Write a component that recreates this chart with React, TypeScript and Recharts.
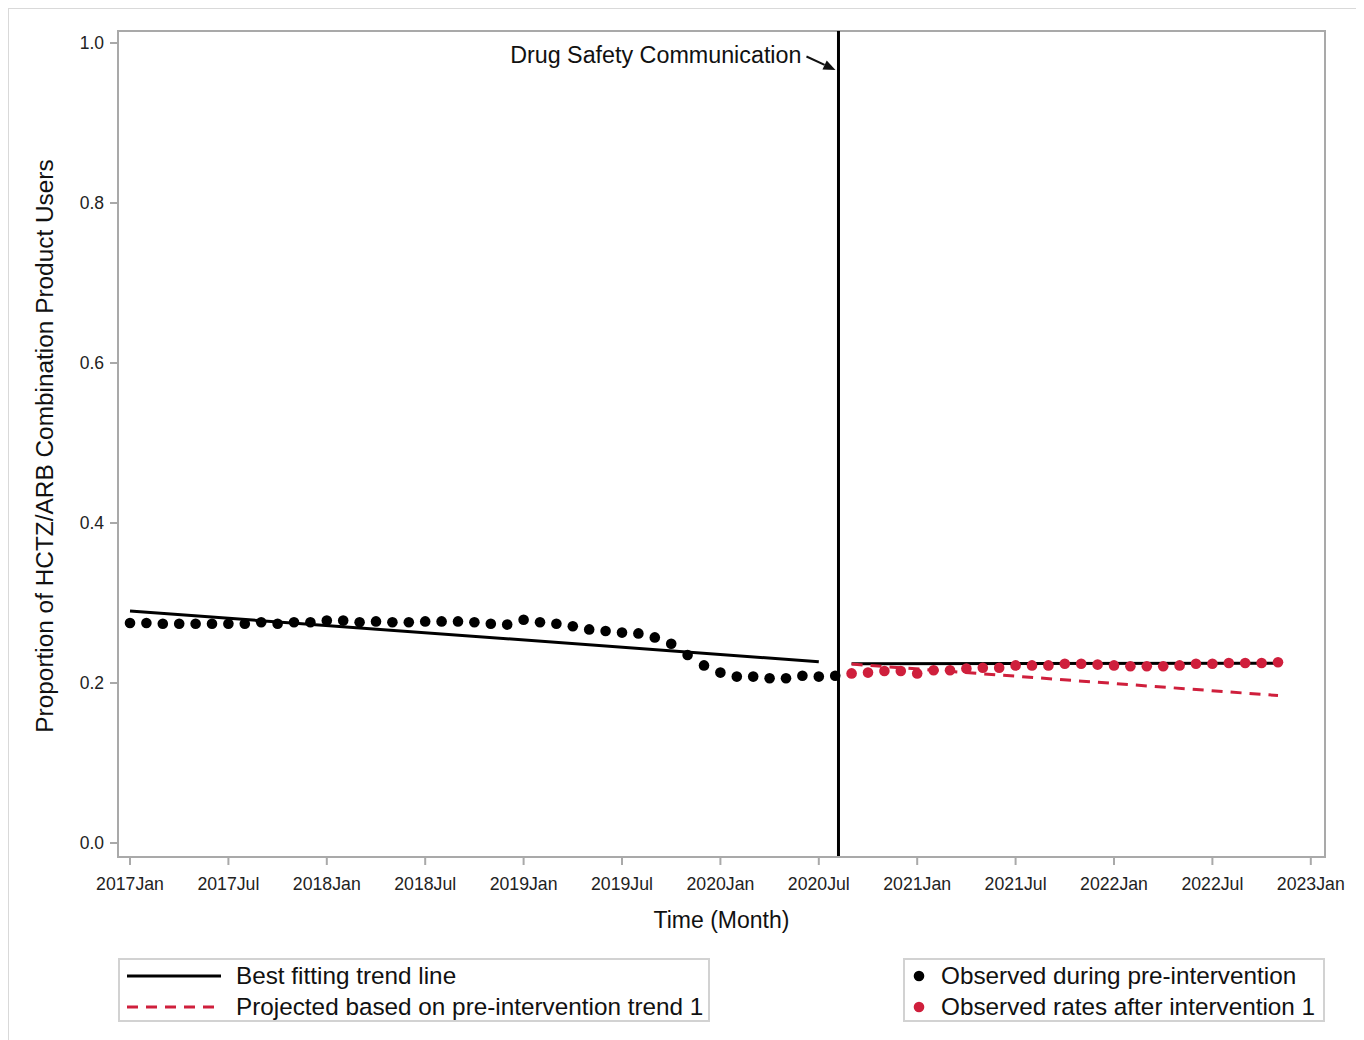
import { ComposedChart, Line, Scatter, XAxis, YAxis, ReferenceLine, ReferenceArea } from "recharts";

// monthly proportions, 2017Jan onward (month index 0)
const preRates = [
  0.275, 0.275, 0.274, 0.274, 0.274, 0.274, 0.274, 0.274, 0.276, 0.274, 0.276, 0.276,
  0.278, 0.278, 0.276, 0.277, 0.276, 0.276, 0.277, 0.277, 0.277, 0.276, 0.274, 0.273,
  0.279, 0.276, 0.274, 0.271, 0.267, 0.265, 0.263, 0.262, 0.257, 0.249, 0.235, 0.222,
  0.213, 0.208, 0.208, 0.206, 0.206, 0.209, 0.208, 0.209,
];
// 2020Sep onward
const postStart = 44;
const postRates = [
  0.212, 0.213, 0.215, 0.215, 0.212, 0.216, 0.216, 0.218, 0.219, 0.219, 0.222, 0.222,
  0.222, 0.224, 0.224, 0.223, 0.222, 0.221, 0.221, 0.221, 0.222, 0.224, 0.224, 0.225,
  0.225, 0.225, 0.226,
];

const trendPre = [{ m: 0, v: 0.290 }, { m: 42, v: 0.2266 }];
const trendPost = [{ m: 44, v: 0.2242 }, { m: 70, v: 0.2248 }];
const projected = [{ m: 44, v: 0.2236 }, { m: 70, v: 0.1843 }];

const interventionMonth = 43.2;

const xTicks = [0, 6, 12, 18, 24, 30, 36, 42, 48, 54, 60, 66, 72];
const xTickLabels = [
  "2017Jan", "2017Jul", "2018Jan", "2018Jul", "2019Jan", "2019Jul", "2020Jan",
  "2020Jul", "2021Jan", "2021Jul", "2022Jan", "2022Jul", "2023Jan",
];
const yTicks = [0, 0.2, 0.4, 0.6, 0.8, 1.0];

const X_DOMAIN: [number, number] = [-0.732, 72.866];
const Y_DOMAIN: [number, number] = [-0.0175, 1.015];

const RED = "#cf1f3c";
const FRAME = "#a9a9a9";
const FONT = "'Liberation Sans', Arial, Helvetica, sans-serif";

const preData = preRates.map((v, i) => ({ m: i, v }));
const postData = postRates.map((v, i) => ({ m: postStart + i, v }));

const Dot = (color: string) => (p: any) => <circle cx={p.cx} cy={p.cy} r={5.3} fill={color} />;

function DscLabel(props: any) {
  const { x, y } = props.viewBox;
  const tip = { x: x - 3, y: y + 39 };
  const tail = { x: x - 32, y: y + 25.5 };
  const dx = tip.x - tail.x;
  const dy = tip.y - tail.y;
  const len = Math.hypot(dx, dy);
  const ux = dx / len;
  const uy = dy / len;
  const bx = tip.x - ux * 12;
  const by = tip.y - uy * 12;
  const head = `M${tip.x},${tip.y} L${bx - uy * 5},${by + ux * 5} L${bx + uy * 5},${by - ux * 5} Z`;
  return (
    <g>
      <text x={x - 37} y={y + 24} textAnchor="end" dominantBaseline="central" fontSize={23.3} fontFamily={FONT} fill="#111">
        Drug Safety Communication
      </text>
      <line x1={tail.x} y1={tail.y} x2={bx} y2={by} stroke="#111" strokeWidth={2} />
      <path d={head} fill="#111" />
    </g>
  );
}

function YTitle(props: any) {
  const { y, height } = props.viewBox;
  const cx = 35;
  const cy = y + height / 2 + 2;
  return (
    <text x={cx} y={cy} transform={`rotate(-90 ${cx} ${cy})`} textAnchor="middle" dominantBaseline="central" fontSize={24.4} fontFamily={FONT} fill="#111">
      Proportion of HCTZ/ARB Combination Product Users
    </text>
  );
}

function XTitle(props: any) {
  const { x, y, width } = props.viewBox;
  return (
    <text x={x + width / 2} y={y + 63} textAnchor="middle" dominantBaseline="central" fontSize={23} fontFamily={FONT} fill="#111">
      Time (Month)
    </text>
  );
}

const legendBox: React.CSSProperties = {
  position: "absolute",
  top: 949,
  height: 64,
  border: "2px solid #d2d2d2",
  fontFamily: FONT,
  fontSize: 24.3,
  color: "#111",
  boxSizing: "border-box",
};

function LegendRow({ top, left, swatch, text }: { top: number; left: number; swatch: React.ReactNode; text: string }) {
  return (
    <div style={{ position: "absolute", top, left: 0, right: 0, height: 30 }}>
      {swatch}
      <span style={{ position: "absolute", left, top: 0, lineHeight: "30px", whiteSpace: "nowrap" }}>{text}</span>
    </div>
  );
}

export default function App() {
  return (
    <div style={{ position: "relative", width: 1356, height: 1032, borderTop: "1px solid #d9d9d9", borderLeft: "1px solid #d9d9d9" }}>
      <ComposedChart width={1340} height={940} margin={{ top: 22, right: 24, left: 0, bottom: 0 }}>
        <XAxis
          dataKey="m"
          type="number"
          domain={X_DOMAIN}
          ticks={xTicks}
          allowDataOverflow
          tickFormatter={(t: number) => xTickLabels[xTicks.indexOf(t)]}
          tick={{ fill: "#222", fontSize: 17.7, fontFamily: FONT }}
          tickSize={8}
          tickMargin={12}
          height={92}
          axisLine={{ stroke: FRAME, strokeWidth: 2 }}
          tickLine={{ stroke: FRAME, strokeWidth: 2 }}
          label={<XTitle />}
        />
        <YAxis
          type="number"
          domain={Y_DOMAIN}
          ticks={yTicks}
          allowDataOverflow
          tickFormatter={(t: number) => t.toFixed(1)}
          tick={{ fill: "#222", fontSize: 17.5, fontFamily: FONT }}
          tickSize={8}
          tickMargin={6}
          width={109}
          axisLine={{ stroke: FRAME, strokeWidth: 2 }}
          tickLine={{ stroke: FRAME, strokeWidth: 2 }}
          label={<YTitle />}
        />
        <ReferenceArea
          x1={X_DOMAIN[0]}
          x2={X_DOMAIN[1]}
          y1={Y_DOMAIN[0]}
          y2={Y_DOMAIN[1]}
          fill="none"
          fillOpacity={0}
          stroke={FRAME}
          strokeWidth={2}
        />
        <Line data={trendPre} dataKey="v" type="linear" stroke="#000" strokeWidth={3} dot={false} isAnimationActive={false} />
        <Line data={trendPost} dataKey="v" type="linear" stroke="#000" strokeWidth={3} dot={false} isAnimationActive={false} />
        <Line data={projected} dataKey="v" type="linear" stroke={RED} strokeWidth={3} strokeDasharray="11 8" dot={false} isAnimationActive={false} />
        <Scatter data={preData} dataKey="v" shape={Dot("#000")} isAnimationActive={false} />
        <Scatter data={postData} dataKey="v" shape={Dot(RED)} isAnimationActive={false} />
        <ReferenceLine x={interventionMonth} stroke="#000" strokeWidth={3} label={<DscLabel />} />
      </ComposedChart>

      <div style={{ ...legendBox, left: 109, width: 592 }}>
        <LegendRow
          top={1}
          left={116}
          text="Best fitting trend line"
          swatch={<svg width={110} height={30} style={{ position: "absolute", left: 0, top: 0 }}><line x1={7} x2={101} y1={15} y2={15} stroke="#000" strokeWidth={3} /></svg>}
        />
        <LegendRow
          top={32}
          left={116}
          text="Projected based on pre-intervention trend 1"
          swatch={<svg width={110} height={30} style={{ position: "absolute", left: 0, top: 0 }}><line x1={7} x2={101} y1={15} y2={15} stroke={RED} strokeWidth={3} strokeDasharray="11 8" /></svg>}
        />
      </div>

      <div style={{ ...legendBox, left: 894, width: 422 }}>
        <LegendRow
          top={1}
          left={36}
          text="Observed during pre-intervention"
          swatch={<svg width={30} height={30} style={{ position: "absolute", left: 0, top: 0 }}><circle cx={14} cy={15} r={5.3} fill="#000" /></svg>}
        />
        <LegendRow
          top={32}
          left={36}
          text="Observed rates after intervention 1"
          swatch={<svg width={30} height={30} style={{ position: "absolute", left: 0, top: 0 }}><circle cx={14} cy={15} r={5.3} fill={RED} /></svg>}
        />
      </div>
    </div>
  );
}
